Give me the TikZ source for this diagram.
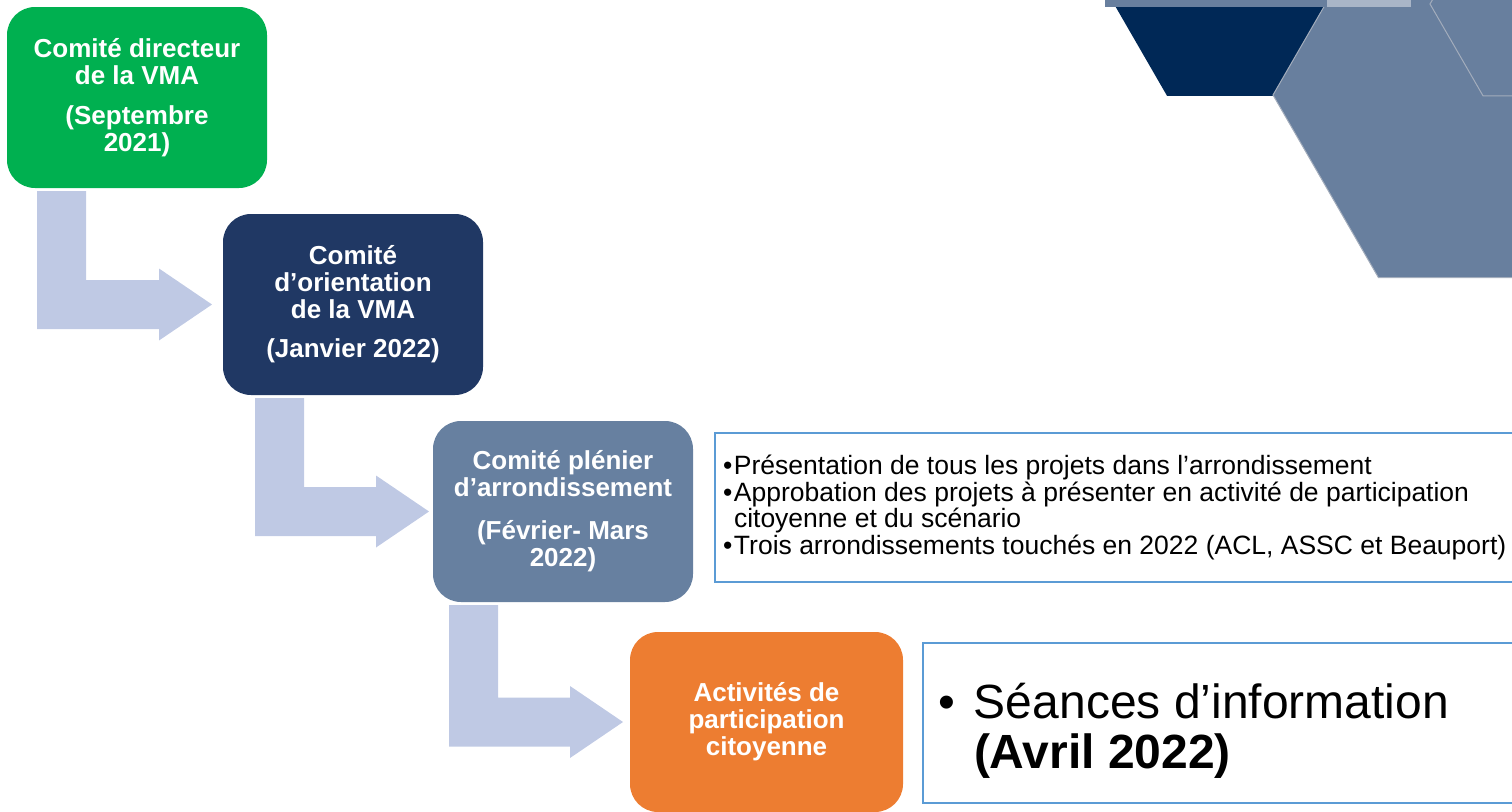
\documentclass[tikz,border=0pt]{standalone}
\usepackage{fontspec}
\setmainfont{Liberation Sans}
\usetikzlibrary{calc}
\definecolor{vmagreen}{HTML}{00B050}
\definecolor{vmanavy}{HTML}{203864}
\definecolor{vmaslate}{HTML}{6780A0}
\definecolor{vmaorange}{HTML}{ED7D31}
\definecolor{flowblue}{HTML}{BFC9E4}
\definecolor{boxblue}{HTML}{5B9BD5}
\definecolor{hexnavy}{HTML}{002856}
\definecolor{hexslate}{HTML}{687F9E}
\definecolor{hexline}{HTML}{A3ADBC}
\definecolor{striplight}{HTML}{A9B5C7}
\begin{document}
\begin{tikzpicture}
  [x=1pt,y=-1pt,every node/.style={inner sep=0pt,outer sep=0pt}]
  \tikzstyle{stage} = [rectangle,rounded corners=28pt,minimum width=260pt,minimum height=181pt,align=center,text=white,font=\bfseries\fontsize{26}{27}\selectfont]
  \tikzstyle{flow} = [fill=flowblue]
  \tikzstyle{infobox} = [rectangle,draw=boxblue,line width=2.5pt,anchor=north west]
  \useasboundingbox (0,0) rectangle (1512,811);
  \clip (0,0) rectangle (1512,811);
  % hexagons in the corner
  \fill[hexnavy] (1220,4) +(0:106) -- +(60:106) -- +(120:106) -- +(180:106) -- +(240:106) -- +(300:106) -- cycle;
  \filldraw[fill=hexslate,draw=hexline,line width=1pt] (1484,95) +(0:211) -- +(60:211) -- +(120:211) -- +(180:211) -- +(240:211) -- +(300:211) -- cycle;
  \filldraw[fill=hexslate,draw=hexline,line width=1pt] (1536,4) +(0:106) -- +(60:106) -- +(120:106) -- +(180:106) -- +(240:106) -- +(300:106) -- cycle;
  \fill[hexslate] (1105,0) rectangle (1327,7);
  \fill[striplight] (1327,0) rectangle (1411,7);
  % stages
  \node[stage,fill=vmagreen] (dir) at (137,97.5) {Comité directeur\\de la VMA\\[13pt](Septembre\\2021)};
  \node[stage,fill=vmanavy] (ori) at (353,304.5) {Comité\\d’orientation\\de la VMA\\[12pt](Janvier 2022)};
  \node[stage,fill=vmaslate] (ple) at (563,511.5) {Comité plénier\\d’arrondissement\\[16pt](Février- Mars\\2022)};
  \node[stage,fill=vmaorange,minimum width=273pt,minimum height=180pt] (act) at (766.5,722) {Activités de\\participation\\citoyenne};
  \foreach \source/\dest/\off/\gap in {dir/ori/30pt/11pt,ori/ple/32pt/4pt,ple/act/16pt/7pt}
   \fill[flow] let \p1=(\source.south west), \p2=(\dest.west) in
     (\x1+\off,\y1-3pt) -- (\x1+\off+49pt,\y1-3pt) -- (\x1+\off+49pt,\y2+24.5pt)
     -- (\x2-\gap-53pt,\y2+24.5pt) -- (\x2-\gap-53pt,\y2+36pt) -- (\x2-\gap,\y2)
     -- (\x2-\gap-53pt,\y2-36pt) -- (\x2-\gap-53pt,\y2-24.5pt) -- (\x1+\off,\y2-24.5pt) -- cycle;
  % details
  \node[infobox,minimum width=830pt,minimum height=149pt] (lst) at (715,433) {};
  \node[anchor=west,align=left,font=\fontsize{26.5}{25.5}\selectfont] (lsttxt) at ([xshift=8pt]lst.west)
    {\makebox[11pt][l]{•}Présentation de tous les projets dans l’arrondissement\\[1.5pt]
     \makebox[11pt][l]{•}Approbation des projets à présenter en activité de participation\\
     \hspace*{11pt}citoyenne et du scénario\\[1.5pt]
     \makebox[11pt][l]{•}Trois arrondissements touchés en 2022 (ACL, ASSC et Beauport)};
  \node[infobox,minimum width=620pt,minimum height=160pt] (sea) at (923,643) {};
  \node[anchor=west,align=left,font=\fontsize{48}{50}\selectfont] (seatxt) at ([xshift=15pt,yshift=-8pt]sea.west)
    {\makebox[36pt][l]{•}Séances d’information\\
     \hspace*{36pt}\textbf{(Avril 2022)}};
\end{tikzpicture}
\end{document}
